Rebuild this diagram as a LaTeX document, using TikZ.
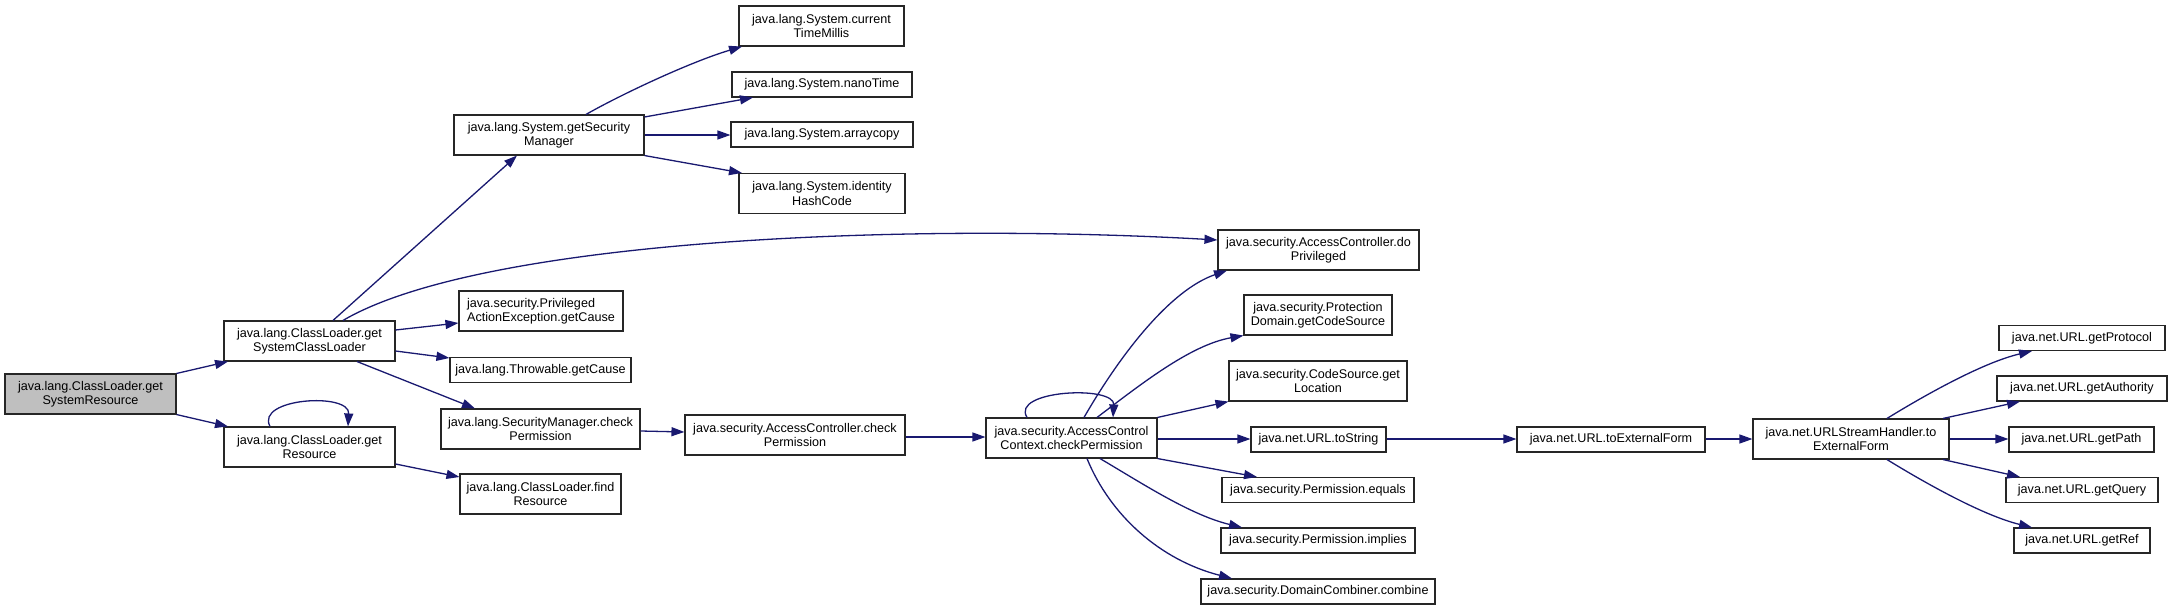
\documentclass[tikz,border=0pt]{standalone}
\usepackage{fontspec}
\setmainfont{Liberation Sans}
\usetikzlibrary{arrows.meta}
\definecolor{edgecol}{RGB}{25,25,112}
\definecolor{rootfill}{RGB}{191,191,191}
\begin{document}
\begin{tikzpicture}[x=1pt,y=-1pt,
  box/.style={draw=black!85, line width=1.1pt, fill=white, inner sep=0pt, align=center,
    font=\fontsize{12.6}{14.2}\selectfont},
  sz/.style 2 args={minimum width=#1pt, minimum height=#2pt},
  link/.style={draw=edgecol, line width=1.3pt, -{Triangle[length=13pt,width=9pt]}}]
\useasboundingbox (0,0) rectangle (2172,610);

% nodes
\node[box,fill=rootfill,sz={171}{40}] (root) at (90.5,394) {java.lang.ClassLoader.get\\SystemResource};
\node[box,sz={171}{40}] (gscl) at (309.5,341) {java.lang.ClassLoader.get\\SystemClassLoader};
\node[box,sz={171}{40}] (gres) at (309.5,447) {java.lang.ClassLoader.get\\Resource};
\node[box,sz={190}{40}] (gsm) at (549,135) {java.lang.System.getSecurity\\Manager};
\node[box,sz={165}{40}] (ctm) at (821.5,26) {java.lang.System.current\\TimeMillis};
\node[box,sz={180}{25}] (nano) at (822,84.5) {java.lang.System.nanoTime};
\node[box,sz={182}{25}] (arr) at (822,134.5) {java.lang.System.arraycopy};
\node[box,sz={166}{40}] (ihc) at (822,193.5) {java.lang.System.identity\\HashCode};
\node[box,sz={164}{40},align=left] (pae) at (541,311) {java.security.Privileged\\ActionException.getCause};
\node[box,sz={181}{25}] (thr) at (540.5,370) {java.lang.Throwable.getCause};
\node[box,sz={199}{40}] (smcp) at (540.5,429) {java.lang.SecurityManager.check\\Permission};
\node[box,sz={220}{40}] (accp) at (795,435) {java.security.AccessController.check\\Permission};
\node[box,sz={161}{40}] (frs) at (540.5,494) {java.lang.ClassLoader.find\\Resource};
\node[box,sz={171}{40}] (accc) at (1071.5,438) {java.security.AccessControl\\Context.checkPermission};
\node[box,sz={201}{40}] (dopr) at (1318.5,250) {java.security.AccessController.do\\Privileged};
\node[box,sz={148}{40}] (pdcs) at (1318,315) {java.security.Protection\\Domain.getCodeSource};
\node[box,sz={178}{40}] (csgl) at (1318,381) {java.security.CodeSource.get\\Location};
\node[box,sz={135}{25}] (urlts) at (1318.5,439.5) {java.net.URL.toString};
\node[box,sz={192}{25}] (peq) at (1318,490) {java.security.Permission.equals};
\node[box,sz={194}{25}] (pimp) at (1318,540.5) {java.security.Permission.implies};
\node[box,sz={234}{25}] (dcc) at (1318,591.5) {java.security.DomainCombiner.combine};
\node[box,sz={188}{25}] (utef) at (1611,439.5) {java.net.URL.toExternalForm};
\node[box,sz={196}{40}] (ush) at (1851,439) {java.net.URLStreamHandler.to\\ExternalForm};
\node[box,sz={166}{25}] (gprot) at (2082,338) {java.net.URL.getProtocol};
\node[box,sz={170}{25}] (gauth) at (2082,388.5) {java.net.URL.getAuthority};
\node[box,sz={145}{25}] (gpath) at (2081.5,439.5) {java.net.URL.getPath};
\node[box,sz={152}{25}] (gq) at (2082,490) {java.net.URL.getQuery};
\node[box,sz={136}{25}] (gref) at (2082,540.5) {java.net.URL.getRef};

% edges
\draw[link] (root.north east) -- (228,0 |- gscl.south);
\draw[link] (root.south east) -- (228,0 |- gres.north);
\draw[link] (333,0 |- gscl.north) -- (517,0 |- gsm.south);
\draw[link] (343,0 |- gscl.north) .. controls (480,240) and (900,222) .. (dopr.west |- 0,240);
\draw[link] (gscl.east |- 0,330) -- (pae.west |- 0,323);
\draw[link] (gscl.east |- 0,351) -- (thr.west |- 0,358);
\draw[link] (357,0 |- gscl.south) -- (475,0 |- smcp.north);
\draw[link] (270,0 |- gres.north) .. controls (255,398) and (350,392) .. (348,0 |- gres.north);
\draw[link] (gres.east |- 0,464) -- (frs.west |- 0,477);
\draw[link] (586,0 |- gsm.north) .. controls (620,95) and (690,62) .. (742,0 |- ctm.south);
\draw[link] (gsm.east |- 0,117) -- (753,0 |- nano.south);
\draw[link] (gsm.east |- 0,135) -- (arr.west |- 0,135);
\draw[link] (gsm.south east) -- (742,0 |- ihc.north);
\draw[link] (smcp.east |- 0,431) -- (accp.west |- 0,432);
\draw[link] (accp.east |- 0,437) -- (accc.west |- 0,437);
\draw[link] (1027,0 |- accc.north) .. controls (1010,390) and (1115,385) .. (1113,0 |- accc.north);
\draw[link] (1084,0 |- accc.north) .. controls (1120,355) and (1170,290) .. (1227,0 |- dopr.south);
\draw[link] (1097,0 |- accc.north) .. controls (1140,385) and (1190,345) .. (pdcs.south west);
\draw[link] (accc.north east) -- (csgl.south west);
\draw[link] (accc.east |- 0,439) -- (urlts.west |- 0,439);
\draw[link] (accc.south east) -- (1257,0 |- peq.north);
\draw[link] (1100,0 |- accc.south) .. controls (1140,482) and (1190,515) .. (1242,0 |- pimp.north);
\draw[link] (1087,0 |- accc.south) .. controls (1110,515) and (1160,560) .. (1232,0 |- dcc.north);
\draw[link] (urlts.east |- 0,439) -- (utef.west |- 0,439);
\draw[link] (utef.east |- 0,439) -- (ush.west |- 0,439);
\draw[link] (1887,0 |- ush.north) .. controls (1930,392) and (1985,362) .. (2032,0 |- gprot.south);
\draw[link] (1943,0 |- ush.north) -- (2020,0 |- gauth.south);
\draw[link] (ush.east |- 0,439) -- (gpath.west |- 0,439);
\draw[link] (1943,0 |- ush.south) -- (2020,0 |- gq.north);
\draw[link] (1887,0 |- ush.south) .. controls (1930,486) and (1985,516) .. (2032,0 |- gref.north);
\end{tikzpicture}
\end{document}
